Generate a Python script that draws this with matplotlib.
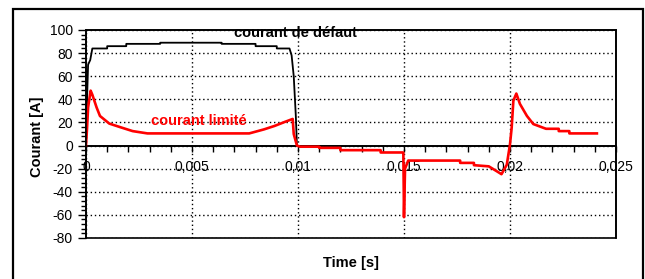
import matplotlib
matplotlib.use("Agg")
import matplotlib.pyplot as plt
from matplotlib.patches import Rectangle
from matplotlib.ticker import MultipleLocator

plt.rcParams['font.family'] = ['Liberation Sans', 'DejaVu Sans']
plt.rcParams['axes.unicode_minus'] = False

# courant de défaut (black)
t_defaut = [0, 0.00005, 0.0001, 0.0002, 0.0003, 0.001, 0.001, 0.0019, 0.0019, 0.0035, 0.0035,
            0.0064, 0.0064, 0.008, 0.008, 0.009, 0.009, 0.0096, 0.0097, 0.0098, 0.0099, 0.00995, 0.0101]
i_defaut = [0, 40, 70, 74, 84, 84, 86, 86, 88, 88, 89,
            89, 88, 88, 86, 86, 84, 84, 78, 60, 25, 0, -1]

# courant limité (red)
t_limite = [0, 0.00005, 0.0001, 0.00022, 0.0003, 0.0005, 0.00066, 0.0011, 0.0016, 0.0022, 0.0029,
            0.0077, 0.0084, 0.0089, 0.0094, 0.00975, 0.0098, 0.00995, 0.0101, 0.011, 0.011,
            0.012, 0.012, 0.0139, 0.0139, 0.01497, 0.01499, 0.0150, 0.01505, 0.0152, 0.01765,
            0.01765, 0.0183, 0.0183, 0.0190, 0.0194, 0.0196, 0.01985, 0.0200, 0.02008, 0.02016,
            0.0203, 0.02047, 0.0208, 0.0211, 0.0217, 0.0223, 0.0223, 0.0228, 0.0228, 0.0241]
i_limite = [0, 15, 33, 47.5, 44, 33, 25.6, 19, 16, 12.5, 10.5,
            10.5, 14, 17, 20.6, 23, 10, 0, -1, -1, -2,
            -2, -4, -4, -6, -6, -40, -62, -20, -13, -13,
            -15, -15, -17, -18, -22.5, -24.8, -16.6, 1, 15.4, 38.8,
            45, 36, 25.6, 18.6, 14.5, 14.5, 12.5, 12.5, 10.5, 10.5]

x_ticks = [0, 0.005, 0.01, 0.015, 0.02, 0.025]
x_tick_labels = ["0", "0,005", "0,01", "0,015", "0,02", "0,025"]
y_ticks = [-80, -60, -40, -20, 0, 20, 40, 60, 80, 100]

fig = plt.figure(figsize=(6.45, 2.79), dpi=100)
ax = fig.add_axes([0.1333, 0.147, 0.8217, 0.7455])

# outer chart border
fig.patches.append(Rectangle((0.0202, -0.1), 0.977, 1.0677, transform=fig.transFigure,
                             fill=False, edgecolor='black', lw=1.6))

ax.plot(t_defaut, i_defaut, color='black', lw=1.3, zorder=3)
ax.plot(t_limite, i_limite, color='red', lw=1.9, zorder=4)

ax.set_xlim(0, 0.025)
ax.set_ylim(-80, 100)

ax.set_xticks(x_ticks)
ax.set_xticklabels(x_tick_labels)
ax.xaxis.set_minor_locator(MultipleLocator(0.001))
ax.set_yticks(y_ticks)
ax.yaxis.set_minor_locator(MultipleLocator(4))

ax.grid(True, which='major', color='black', linestyle=(0, (1, 2)), lw=1)

ax.spines['bottom'].set_position(('data', 0))
ax.spines['bottom'].set_linewidth(1.4)
for s in ['left', 'top', 'right']:
    ax.spines[s].set_linewidth(1.2)
ax.add_patch(Rectangle((0, 0), 1, 1, transform=ax.transAxes, fill=False,
                       edgecolor='black', lw=1.2, zorder=5, clip_on=False))

ax.tick_params(axis='x', which='both', direction='out', length=4, width=1, pad=6.5, labelsize=10)
ax.tick_params(axis='y', which='major', direction='out', length=6, width=1, labelsize=10, pad=3.5)
ax.tick_params(axis='y', which='minor', direction='out', length=3.6, width=1)

ax.set_ylabel('Courant [A]', fontsize=10.5, fontweight='bold')
ax.set_xlabel('Time [s]', fontsize=10.5, fontweight='bold')
ax.xaxis.set_label_coords(0.5, -0.087)
ax.yaxis.set_label_coords(-0.08, 0.486)

ax.text(0.0099, 97, 'courant de défaut', fontsize=10.5, fontweight='bold', color='black',
        ha='center', va='center', zorder=6)
ax.text(0.0053, 21, 'courant limité', fontsize=10.5, fontweight='bold', color='red',
        ha='center', va='center', zorder=6)

fig.savefig('out.png', dpi=100)
